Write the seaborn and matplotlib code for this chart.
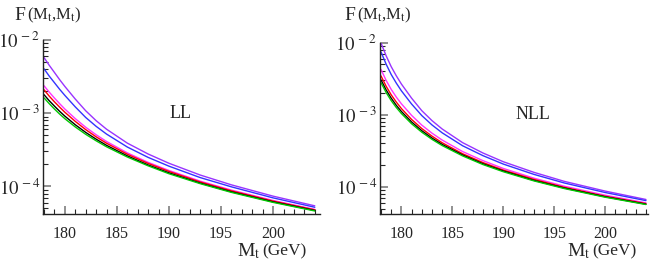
import pandas as pd
import matplotlib
matplotlib.use("Agg")
import matplotlib.pyplot as plt
import seaborn as sns
from matplotlib.ticker import LogLocator, MultipleLocator, NullFormatter, FixedLocator

mt = [178, 178.5, 179, 179.5, 180, 181, 182, 183, 184, 186, 188, 190, 193, 196, 200, 204]

curve_names = ['purple', 'blue', 'magenta', 'red', 'black', 'green']
curve_colors = ['#9933ff', '#3333ff', '#ff33ff', '#ff0000', '#000000', '#00c800']

# LL panel
ll_purple = [5.75e-3, 4.51e-3, 3.60e-3, 2.87e-3, 2.32e-3, 1.56e-3, 1.08e-3, 7.91e-4,
             6.05e-4, 3.90e-4, 2.77e-4, 2.07e-4, 1.43e-4, 1.05e-4, 7.36e-5, 5.43e-5]
ll_blue = [4.04e-3, 3.21e-3, 2.61e-3, 2.12e-3, 1.75e-3, 1.22e-3, 8.75e-4, 6.62e-4,
           5.19e-4, 3.45e-4, 2.49e-4, 1.89e-4, 1.32e-4, 9.86e-5, 6.97e-5, 5.19e-5]
ll_magenta = [2.37e-3, 1.94e-3, 1.61e-3, 1.35e-3, 1.14e-3, 8.43e-4, 6.43e-4, 5.08e-4,
              4.11e-4, 2.87e-4, 2.13e-4, 1.65e-4, 1.18e-4, 8.91e-5, 6.43e-5, 4.85e-5]
ll_red = [2.09e-3, 1.71e-3, 1.43e-3, 1.21e-3, 1.03e-3, 7.73e-4, 5.97e-4, 4.76e-4,
          3.89e-4, 2.75e-4, 2.06e-4, 1.60e-4, 1.15e-4, 8.69e-5, 6.30e-5, 4.78e-5]
ll_black = [1.79e-3, 1.48e-3, 1.25e-3, 1.06e-3, 9.12e-4, 6.95e-4, 5.47e-4, 4.42e-4,
            3.64e-4, 2.61e-4, 1.96e-4, 1.53e-4, 1.11e-4, 8.43e-5, 6.15e-5, 4.69e-5]
ll_green = [1.62e-3, 1.35e-3, 1.14e-3, 9.73e-4, 8.41e-4, 6.49e-4, 5.15e-4, 4.20e-4,
            3.48e-4, 2.52e-4, 1.91e-4, 1.49e-4, 1.09e-4, 8.28e-5, 6.05e-5, 4.62e-5]

# NLL panel
nll_purple = [9.90e-3, 6.59e-3, 4.65e-3, 3.47e-3, 2.67e-3, 1.70e-3, 1.14e-3, 8.30e-4,
              6.35e-4, 4.11e-4, 2.95e-4, 2.23e-4, 1.59e-4, 1.19e-4, 8.73e-5, 6.68e-5]
nll_blue = [7.45e-3, 5.04e-3, 3.62e-3, 2.75e-3, 2.15e-3, 1.41e-3, 9.75e-4, 7.23e-4,
            5.62e-4, 3.72e-4, 2.71e-4, 2.07e-4, 1.49e-4, 1.13e-4, 8.34e-5, 6.44e-5]
nll_magenta = [4.25e-3, 3.00e-3, 2.25e-3, 1.76e-3, 1.42e-3, 9.82e-4, 7.19e-4, 5.56e-4,
               4.46e-4, 3.09e-4, 2.31e-4, 1.80e-4, 1.32e-4, 1.02e-4, 7.66e-5, 6.00e-5]
nll_red = [3.46e-3, 2.49e-3, 1.89e-3, 1.50e-3, 1.22e-3, 8.61e-4, 6.44e-4, 5.05e-4,
           4.09e-4, 2.88e-4, 2.17e-4, 1.71e-4, 1.27e-4, 9.84e-5, 7.41e-5, 5.85e-5]
nll_black = [3.05e-3, 2.21e-3, 1.70e-3, 1.35e-3, 1.11e-3, 7.94e-4, 6.01e-4, 4.75e-4,
             3.88e-4, 2.77e-4, 2.09e-4, 1.66e-4, 1.23e-4, 9.62e-5, 7.28e-5, 5.75e-5]
nll_green = [2.79e-3, 2.04e-3, 1.57e-3, 1.26e-3, 1.04e-3, 7.50e-4, 5.73e-4, 4.56e-4,
             3.74e-4, 2.69e-4, 2.04e-4, 1.62e-4, 1.21e-4, 9.46e-5, 7.18e-5, 5.69e-5]

x_ticks = [180, 185, 190, 195, 200]
y_ticks = [1e-4, 1e-3, 1e-2]
y_tick_labels = [r'$10^{\,-4}$', r'$10^{\,-3}$', r'$10^{\,-2}$']


def to_long(series):
    rows = []
    for name, vals in zip(curve_names, series):
        for m, v in zip(mt, vals):
            rows.append({'Mt': m, 'F': v, 'curve': name})
    return pd.DataFrame(rows)


def draw_panel(ax, df, tag, xlim, tag_pos):
    sns.lineplot(data=df, x='Mt', y='F', hue='curve', hue_order=curve_names,
                 palette=dict(zip(curve_names, curve_colors)), estimator=None,
                 sort=False, legend=False, lw=1.0, ax=ax)
    ax.set_yscale('log')
    ax.set_xlim(*xlim)
    ax.set_ylim(4.2e-5, 1.0e-2)
    for s in ['top', 'right']:
        ax.spines[s].set_visible(False)
    for s in ['left', 'bottom']:
        ax.spines[s].set_color('#222222')
        ax.spines[s].set_linewidth(1.0)

    ax.xaxis.set_major_locator(FixedLocator(x_ticks))
    ax.xaxis.set_minor_locator(MultipleLocator(1))
    ax.set_xticklabels([str(t) for t in x_ticks])
    ax.yaxis.set_major_locator(FixedLocator(y_ticks))
    ax.set_yticklabels(y_tick_labels)
    ax.yaxis.set_minor_locator(LogLocator(base=10, subs=range(2, 10)))
    ax.yaxis.set_minor_formatter(NullFormatter())

    ax.tick_params(which='major', direction='in', length=6, width=1.1, color='0.45')
    ax.tick_params(axis='x', which='major', labelsize=11.5, pad=9)
    ax.tick_params(axis='y', which='major', labelsize=13.5, pad=2)
    ax.tick_params(which='minor', direction='in', length=3.5, width=0.8, color='0.15')
    ax.set_xlabel('')
    ax.set_ylabel('')
    ax.grid(False)
    ax.text(tag_pos[0], tag_pos[1], tag, transform=ax.transAxes, fontsize=13,
            ha='center', va='center')


sns.set_style("ticks")
plt.rcParams['font.family'] = ['Liberation Serif', 'DejaVu Serif']
plt.rcParams['mathtext.fontset'] = 'stix'

fig = plt.figure(figsize=(6.53, 2.71), dpi=100)
ax_ll = fig.add_axes([43 / 653, 57 / 271, 277 / 653, 174 / 271])
ax_nll = fig.add_axes([380 / 653, 57 / 271, 268 / 653, 171.3 / 271])

draw_panel(ax_ll, to_long([ll_purple, ll_blue, ll_magenta, ll_red, ll_black, ll_green]),
           'LL', (177.9, 204.5), (0.495, 0.58))
draw_panel(ax_nll, to_long([nll_purple, nll_blue, nll_magenta, nll_red, nll_black, nll_green]),
           'NLL', (177.9, 204.2), (0.571, 0.58))

# axis titles written as free text, like the original
for x0 in (14, 344):
    fig.text(x0 / 653, 1 - 16 / 271, 'F', fontsize=14, va='center', ha='left')
    fig.text((x0 + 13) / 653, 1 - 15 / 271, r'(M$_\mathrm{t}$,M$_\mathrm{t}$)',
             fontsize=12, va='center', ha='left')
for x0 in (237, 567):
    fig.text(x0 / 653, 1 - 251 / 271, r'M$_\mathrm{t}$', fontsize=14, va='center', ha='left')
    fig.text((x0 + 25) / 653, 1 - 251 / 271, '(GeV)', fontsize=12.5, va='center', ha='left')

fig.savefig('out.png', dpi=100, facecolor='white')
